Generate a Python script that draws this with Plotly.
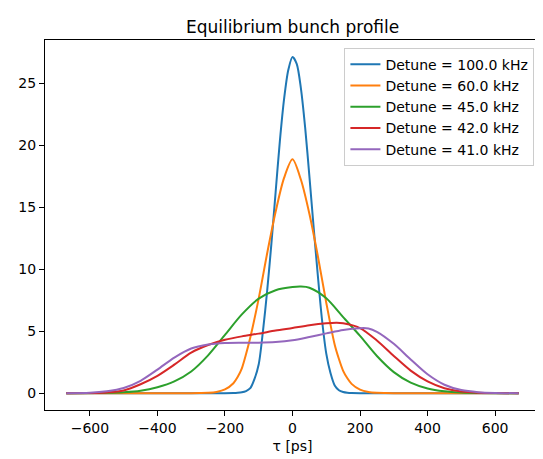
import plotly.graph_objects as go

# Profils (tau en ps)
tau_100 = [-670, -300, -200, -175, -162.5, -150, -137.5, -125, -112.5, -100, -87.5, -75, -62.5, -50, -37.5,
           -25, -12.5, 0, 12.5, 25, 37.5, 50, 62.5, 75, 87.5, 100, 112.5, 125, 137.5, 150, 162.5, 175,
           200, 300, 670]
rho_100 = [0, 0, 0, 0.01, 0.03, 0.07, 0.17, 0.4, 1.15, 2.33, 5.0, 8.26, 12.06, 16.2, 20.3,
           23.7, 26.05, 27.1, 26.55, 24.55, 21.4, 17.5, 13.4, 9.5, 5.9, 3.19, 1.62, 0.62, 0.24, 0.1, 0.04, 0.015,
           0, 0, 0]

tau_60 = [-670, -300, -275, -250, -225, -200, -175, -162.5, -150, -137.5, -125, -100, -75, -50, -25, 0,
          25, 50, 75, 100, 125, 137.5, 150, 162.5, 175, 200, 225, 250, 275, 300, 670]
rho_60 = [0, 0, 0.01, 0.03, 0.1, 0.3, 0.8, 1.3, 2.0, 3.15, 4.48, 7.64, 11.28, 14.62, 17.35, 18.85,
          17.2, 14.46, 11.06, 7.29, 3.9, 2.75, 1.8, 1.2, 0.75, 0.28, 0.09, 0.025, 0.007, 0, 0]

tau_45 = [-670, -550, -500, -450, -400, -350, -300, -250, -200, -150, -100, -50, 0, 25,
          50, 100, 150, 200, 250, 300, 350, 400, 450, 500, 550, 670]
rho_45 = [0, 0.03, 0.08, 0.2, 0.48, 0.95, 1.75, 3.05, 4.7, 6.35, 7.62, 8.3, 8.55, 8.59,
          8.5, 7.65, 6.13, 4.62, 3.0, 1.7, 0.85, 0.38, 0.15, 0.05, 0.015, 0]

tau_42 = [-670, -600, -550, -500, -450, -400, -350, -300, -250, -200, -150, -100, -50, 0,
          50, 100, 130, 150, 200, 250, 300, 350, 400, 450, 500, 550, 600, 670]
rho_42 = [0, 0.01, 0.06, 0.22, 0.72, 1.4, 2.3, 3.27, 3.88, 4.3, 4.58, 4.8, 5.05, 5.26,
          5.48, 5.63, 5.67, 5.64, 5.25, 4.25, 3.0, 1.82, 0.95, 0.4, 0.13, 0.04, 0.01, 0]

tau_41 = [-670, -600, -550, -500, -450, -400, -350, -300, -250, -200, -150, -100, -50, 0,
          50, 100, 150, 200, 225, 250, 300, 350, 400, 450, 500, 550, 600, 670]
rho_41 = [0, 0.03, 0.15, 0.42, 1.0, 1.9, 2.87, 3.6, 3.92, 4.05, 4.07, 4.07, 4.12, 4.26,
          4.53, 4.82, 5.1, 5.24, 5.22, 4.95, 3.98, 2.72, 1.52, 0.68, 0.25, 0.08, 0.02, 0]

detunes = [100.0, 60.0, 45.0, 42.0, 41.0]
profiles = [(tau_100, rho_100), (tau_60, rho_60), (tau_45, rho_45), (tau_42, rho_42), (tau_41, rho_41)]
colors = ['#1f77b4', '#ff7f0e', '#2ca02c', '#d62728', '#9467bd']

fig = go.Figure()

for detune, (tau, rho), color in zip(detunes, profiles, colors):
    fig.add_trace(go.Scatter(
        x=tau,
        y=rho,
        mode='lines',
        name=f'Detune = {detune:.1f} kHz',
        line=dict(color=color, width=2, shape='spline', smoothing=0.8),
    ))

axis_style = dict(
    showline=True, mirror=True, linecolor='black', linewidth=1,
    ticks='outside', ticklen=5, tickwidth=1, tickcolor='black',
    showgrid=False, zeroline=False, automargin=False,
    tickfont=dict(size=14, color='black'),
)

# Mise en forme
fig.update_layout(
    width=543,
    height=459,
    margin=dict(l=37, r=11, t=32, b=57, pad=0),
    paper_bgcolor='white',
    plot_bgcolor='white',
    font=dict(family='DejaVu Sans', color='black'),
    title=dict(text='Equilibrium bunch profile', font=dict(size=17),
               x=0.524, xanchor='center', y=1 - 19 / 459, yanchor='middle'),
    xaxis=dict(range=[-733, 733], tickvals=[-600, -400, -200, 0, 200, 400, 600],
               title=dict(text='τ [ps]', font=dict(size=14), standoff=6), **axis_style),
    yaxis=dict(range=[-1.356, 28.47], tickvals=[0, 5, 10, 15, 20, 25], **axis_style),
    legend=dict(x=0.9887, xanchor='right', y=0.979, yanchor='top',
                bgcolor='rgba(255,255,255,0.8)', bordercolor='#cccccc', borderwidth=1,
                font=dict(size=14), itemwidth=30),
    showlegend=True,
)

fig.write_html("out.html")
